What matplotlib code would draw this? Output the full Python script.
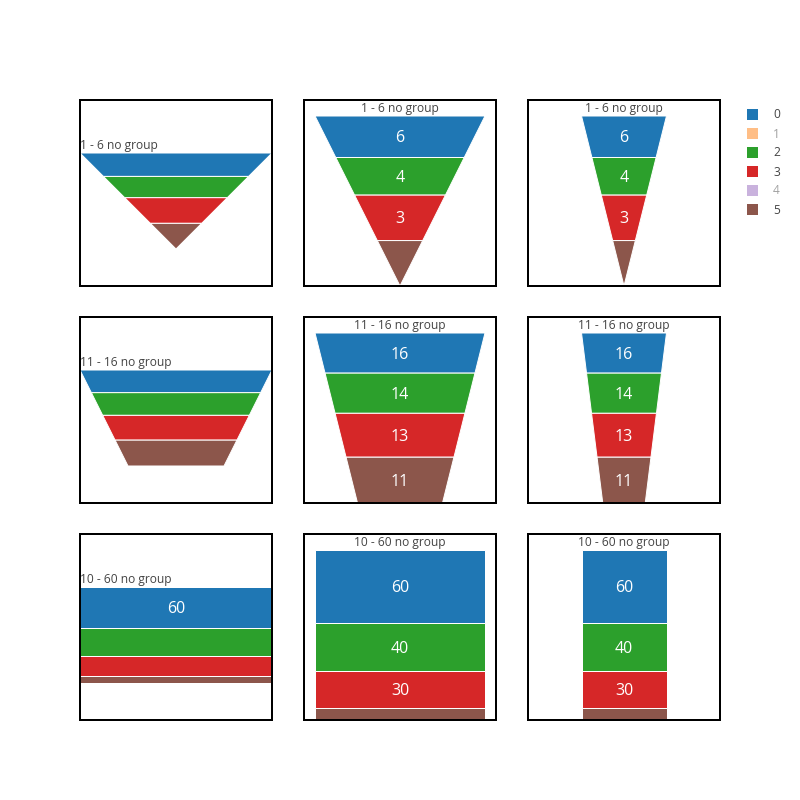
import numpy as np
import matplotlib.pyplot as plt
from matplotlib.patches import Polygon, Rectangle

plt.rcParams['font.family'] = ['Open Sans', 'DejaVu Sans']

labels = ['0', '1', '2', '3', '4', '5']
colors = ['#1f77b4', '#ff7f0e', '#2ca02c', '#d62728', '#9467bd', '#8c564b']
hidden = ['1', '4']
row_values = [[6, 5, 4, 3, 2, 1],
              [16, 15, 14, 13, 12, 11],
              [60, 50, 40, 30, 20, 10]]
row_titles = ['1 - 6 no group', '11 - 16 no group', '10 - 60 no group']
base_ratios = [0, 0.5, 1]
aspect_ratios = [0.5, 1, 2]
title_pos = ['left', 'center', 'center']

PX = 0.72  # px -> pt at 100 dpi
PW, PH = 192, 186
lefts = [80, 304, 528]
tops = [100, 317, 534]
TH = 16  # room for the title


def slice_bounds(vals, b):
    # depth fractions where cumulative area hits each value share
    tot = float(sum(vals))
    cum = np.cumsum([0] + vals) / tot
    out = []
    for c in cum:
        a = c * (1 + b) / 2
        if b == 1:
            s = a
        else:
            k = 1 - b
            s = (1 - np.sqrt(max(1 - 2 * k * a, 0))) / k
        out.append(s)
    return out


fig = plt.figure(figsize=(8, 8), dpi=100)

for r in range(3):
    shown = [(lab, v, c) for lab, v, c in zip(labels, row_values[r], colors) if lab not in hidden]
    vals = [v for _, v, _ in shown]
    b = base_ratios[r]
    bounds = slice_bounds(vals, b)
    for col in range(3):
        ar = aspect_ratios[col]
        ax = fig.add_axes([lefts[col] / 800, 1 - (tops[r] + PH) / 800, PW / 800, PH / 800])
        ax.set_xlim(0, PW)
        ax.set_ylim(PH, 0)
        ax.set_xticks([])
        ax.set_yticks([])
        for sp in ax.spines.values():
            sp.set_linewidth(2 * PX)
            sp.set_color('black')

        H = min(PH - TH, PW * ar)
        W = H / ar
        top = (PH - (TH + H)) / 2 + TH
        cx = PW / 2

        def width_at(s):
            return W * (1 - (1 - b) * s)

        for i, (lab, v, c) in enumerate(shown):
            s0, s1 = bounds[i], bounds[i + 1]
            y0, y1 = top + s0 * H, top + s1 * H
            w0, w1 = width_at(s0), width_at(s1)
            poly = Polygon([(cx - w0 / 2, y0), (cx + w0 / 2, y0),
                            (cx + w1 / 2, y1), (cx - w1 / 2, y1)],
                           closed=True, facecolor=c, edgecolor='white', linewidth=1 * PX)
            ax.add_patch(poly)
            txt = str(v)
            tw = 9.2 * len(txt)
            yc = (y0 + y1) / 2
            s_low = (yc + 8 - top) / H
            if (y1 - y0) >= 30 and width_at(s_low) >= tw + 6:
                ax.text(cx, yc + 1.5, txt, color='white', fontsize=16 * PX,
                        ha='center', va='center')

        if title_pos[col] == 'left':
            ax.text(0, top - 1, row_titles[r], ha='left', va='bottom',
                    fontsize=12 * PX, color='#444444')
        else:
            ax.text(cx, top - 1, row_titles[r], ha='center', va='bottom',
                    fontsize=12 * PX, color='#444444')

# legend
lax = fig.add_axes([740 / 800, 1 - 225 / 800, 60 / 800, 125 / 800])
lax.set_xlim(740, 800)
lax.set_ylim(225, 100)
lax.axis('off')
for i, (lab, c) in enumerate(zip(labels, colors)):
    y = 114 + 19 * i
    alpha = 0.5 if lab in hidden else 1.0
    lax.add_patch(Rectangle((747, y - 5.5), 11, 11, facecolor=c, alpha=alpha, edgecolor='none'))
    lax.text(773, y + 1, lab, ha='left', va='center', fontsize=12 * PX,
             color='#444444', alpha=alpha)

fig.savefig('out.png', dpi=100)
